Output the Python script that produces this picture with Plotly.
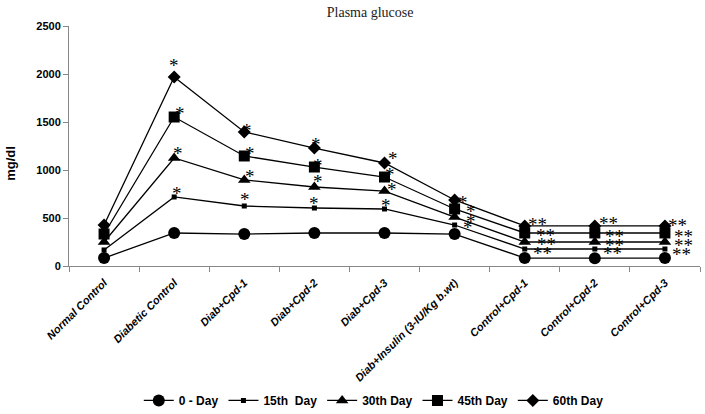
import plotly.graph_objects as go

categories = ["Normal Control", "Diabetic Control", "Diab+Cpd-1", "Diab+Cpd-2", "Diab+Cpd-3",
              "Diab+Insulin (3-IU/Kg b.wt)", "Control+Cpd-1", "Control+Cpd-2", "Control+Cpd-3"]
series_names = ["0 - Day", "15th  Day", "30th Day", "45th Day", "60th Day"]

day0 = [83, 344, 333, 344, 344, 333, 83, 80, 83]
day15 = [167, 719, 625, 604, 594, 427, 177, 177, 177]
day30 = [250, 1125, 896, 823, 781, 510, 250, 250, 250]
day45 = [333, 1552, 1146, 1031, 927, 594, 344, 344, 344]
day60 = [427, 1969, 1396, 1229, 1073, 688, 417, 417, 417]

# significance marks per series (index matches categories)
sig15 = ["", "*", "*", "*", "*", "*", "**", "**", "**"]
sig30 = ["", "*", "*", "*", "*", "*", "**", "**", "**"]
sig45 = ["", "*", "*", "*", "*", "*", "**", "**", "**"]
sig60 = ["", "*", "*", "*", "*", "*", "**", "**", "**"]

# style: pixel offsets of significance marks from their markers (dx, dy)
off15 = [(0, 0), (3, 9), (1, 13), (0, 11), (1, 9), (13, 4), (18, 2), (18, 2), (17, 1)]
off30 = [(0, 0), (4, 11), (6, 9), (4, 11), (7, 8), (16, 2), (22, 4), (20, 3), (19, 3)]
off45 = [(0, 0), (6, 10), (6, 8), (4, 8), (5, 9), (16, 3), (21, 3), (20, 2), (19, 2)]
off60 = [(0, 0), (0, 17), (3, 7), (2, 10), (8, 10), (8, 3), (13, 7), (14, 8), (13, 6)]

values = [day0, day15, day30, day45, day60]
symbols = ["circle", "square", "triangle-up", "square", "diamond"]
sizes = [12, 5, 11, 11, 10]

fig = go.Figure()
for name, vals, sym, sz in zip(series_names, values, symbols, sizes):
    fig.add_trace(go.Scatter(
        x=categories, y=vals, name=name, mode="lines+markers",
        line=dict(color="black", width=1.3),
        marker=dict(symbol=sym, size=sz, color="black"),
    ))

for sig, off, vals in [(sig15, off15, day15), (sig30, off30, day30),
                       (sig45, off45, day45), (sig60, off60, day60)]:
    for cat, s, (dx, dy), v in zip(categories, sig, off, vals):
        if not s:
            continue
        fig.add_annotation(x=cat, y=v, text=s, showarrow=False,
                           xshift=dx, yshift=dy - 6,
                           font=dict(family="Liberation Serif", size=19, color="black"))

# y-axis title
fig.add_annotation(text="mg/dl", xref="paper", yref="paper", x=-0.092, y=0.43,
                   textangle=-90, showarrow=False, xanchor="center", yanchor="middle",
                   font=dict(family="Liberation Sans", size=13, color="black", weight="bold"))

fig.update_layout(
    width=705, height=414,
    margin=dict(l=69, r=5, t=26, b=148, autoexpand=False),
    paper_bgcolor="white", plot_bgcolor="white",
    title=dict(text="Plasma glucose", x=0.525, xanchor="center", y=0.971, yanchor="middle",
               font=dict(family="Liberation Serif", size=14, color="#222")),
    showlegend=True,
    legend=dict(orientation="h", x=0.483, xanchor="center", y=-0.56, yanchor="middle",
                font=dict(family="Liberation Sans", size=12, color="black", weight="bold"),
                itemwidth=30, tracegroupgap=0),
    xaxis=dict(type="category", range=[-0.5, 8.5], showgrid=False, showline=True,
               automargin=False,
               linecolor="#888", linewidth=1, ticks="outside", tickson="boundaries",
               ticklen=5, tickcolor="#888", tickangle=-45, ticklabelstandoff=5,
               tickfont=dict(family="Liberation Sans", size=11, color="black",
                             weight="bold", style="italic")),
    yaxis=dict(range=[0, 2500], dtick=500, showgrid=False, showline=True,
               automargin=False,
               linecolor="#888", linewidth=1, ticks="outside", ticklen=5, tickcolor="#888",
               zeroline=False,
               tickfont=dict(family="Liberation Sans", size=11, color="black", weight="bold")),
)

fig.write_html("out.html", config={"displayModeBar": False},
               post_script="document.body.style.margin='0';")
